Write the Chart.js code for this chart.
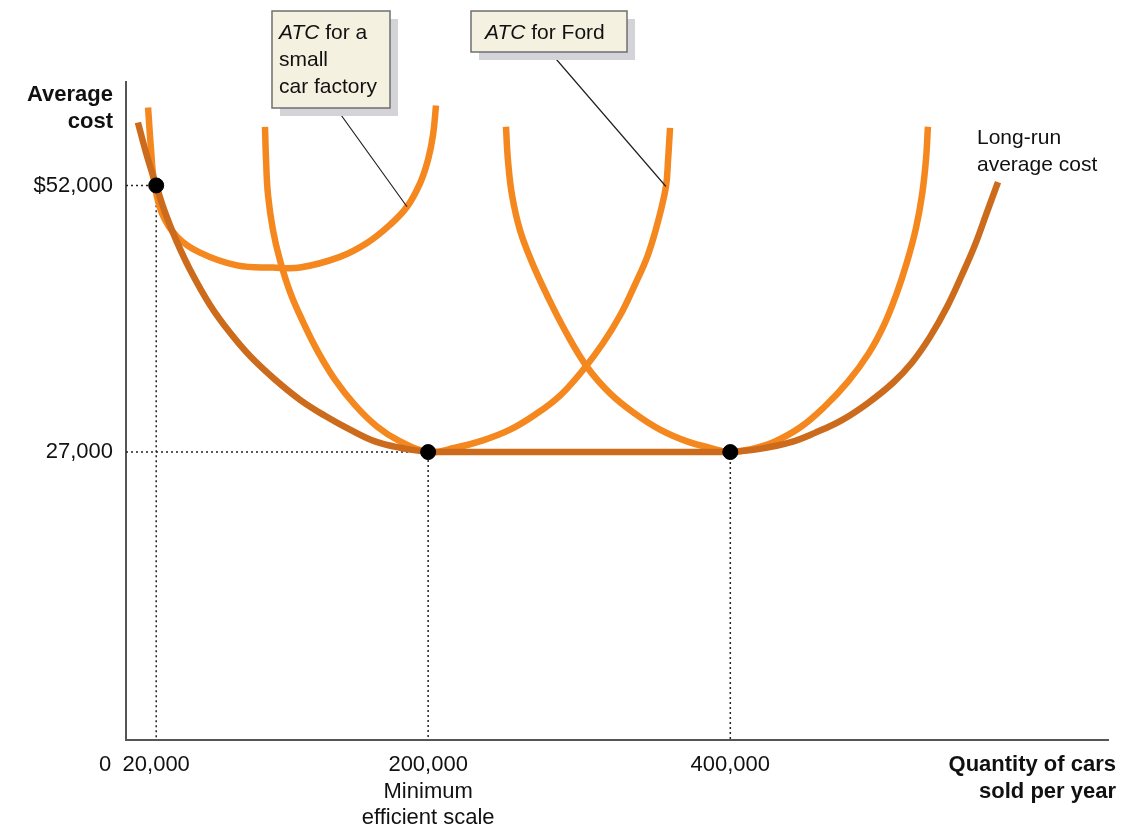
<!DOCTYPE html>
<html>
<head>
<meta charset="utf-8">
<title>Long-run average cost</title>
<script src="https://cdn.jsdelivr.net/npm/chart.js@4.4.0/dist/chart.umd.min.js"></script>
<style>
  html, body { margin: 0; padding: 0; background: #fff; }
  #wrap { width: 1135px; height: 829px; position: relative; }
</style>
</head>
<body>
<div id="wrap"><canvas id="costChart"></canvas></div>
<script>
// Quantity of cars sold per year (x) and average cost in dollars (y)
const smallAtcQ = [14600, 16600, 18500, 23800, 33800, 49000, 73500, 97300, 115200, 141600, 159500, 174700, 186000, 194600, 199900, 203200, 205200];
const smallAtcCost = [59300, 55300, 52500, 49400, 47200, 45700, 44500, 44300, 44300, 45300, 46600, 48300, 50000, 52200, 54400, 56700, 59500];

const fordAtcQ = [92000, 92700, 94000, 97300, 101900, 108600, 117200, 127100, 138300, 151600, 166100, 181400, 200000, 217800, 236300, 254200, 270700, 287300, 302500, 315700, 327000, 336900, 345500, 352100, 357400, 358800, 360100];
const fordAtcCost = [57500, 54400, 51100, 47800, 45000, 42000, 39200, 36400, 33800, 31400, 29400, 28000, 27000, 27400, 28100, 29100, 30500, 32300, 34700, 37200, 39800, 42700, 45500, 48600, 51900, 54400, 57400];

const largeAtcQ = [251500, 252800, 255500, 260800, 268700, 278700, 290600, 305100, 320400, 336900, 353500, 371300, 386600, 400000, 414300, 428200, 446100, 462000, 477900, 491800, 501700, 509700, 516900, 522900, 526900, 529500, 530800];
const largeAtcCost = [57500, 54400, 51100, 47800, 44800, 41700, 38400, 35000, 32500, 30600, 29100, 28000, 27400, 27000, 27300, 27900, 29300, 31200, 33600, 36300, 38900, 41700, 44800, 48000, 51100, 54400, 57500];

const lracQ = [7900, 13200, 17900, 20000, 25800, 33100, 42400, 55600, 68800, 82100, 98600, 115200, 131700, 148300, 164800, 181400, 200000, 300000, 400000, 419600, 439500, 456000, 473900, 491100, 507700, 520300, 532200, 543400, 553300, 561900, 569900, 577200];
const lracCost = [57900, 55100, 52900, 52000, 49500, 46900, 44100, 40800, 38200, 36000, 33800, 31900, 30400, 29100, 28000, 27400, 27000, 27000, 27000, 27300, 27900, 28800, 30000, 31600, 33500, 35400, 37800, 40600, 43600, 46400, 49500, 52300];

// marked points
const dotQ = [20000, 200000, 400000];
const dotCost = [52000, 27000, 27000];

// tick values and labels
const xTickValues = [20000, 200000, 400000];
const xTickLabels = ['20,000', ['200,000', 'Minimum', 'efficient scale'], '400,000'];
const yTickValues = [27000, 52000];
const yTickLabels = ['27,000', '$52,000'];

const ATC_COLOR = '#f5871f';
const LRAC_COLOR = '#cc6b1b';
const FONT = '"Liberation Sans", Arial, Helvetica, sans-serif';

function toPoints(xs, ys) {
    return xs.map((v, i) => ({ x: v, y: ys[i] }));
}

function curve(label, points, color, tension) {
    return {
        label: label,
        data: points,
        borderColor: color,
        borderWidth: 6.5,
        pointRadius: 0,
        tension: tension,
        borderCapStyle: 'butt',
        showLine: true,
        clip: false,
    };
}

function guide(points) {
    return {
        label: 'guide',
        data: points,
        borderColor: '#222',
        borderWidth: 1.5,
        borderDash: [2, 3],
        pointRadius: 0,
        showLine: true,
        tension: 0,
    };
}

// long-run curve: falling part, flat bottom between the two minimum points, rising part
const lracPoints = toPoints(lracQ, lracCost);
const flatStart = lracQ.indexOf(200000);
const flatEnd = lracQ.indexOf(400000);

// boxes, pointers and free text
const notesPlugin = {
    id: 'notes',
    afterDraw(chart) {
        const { ctx, scales: { x, y } } = chart;
        ctx.save();

        // pointer lines from boxes to curves
        ctx.strokeStyle = '#222';
        ctx.lineWidth = 1.2;
        ctx.beginPath();
        ctx.moveTo(336, 108);
        ctx.lineTo(x.getPixelForValue(smallAtcQ[12]), y.getPixelForValue(smallAtcCost[12]));
        ctx.moveTo(550, 52);
        ctx.lineTo(x.getPixelForValue(fordAtcQ[24]), y.getPixelForValue(fordAtcCost[24]));
        ctx.stroke();

        function box(left, top, w, h) {
            ctx.fillStyle = '#d3d3d8';
            ctx.fillRect(left + 8, top + 8, w, h);
            ctx.fillStyle = '#f4f1e1';
            ctx.fillRect(left, top, w, h);
            ctx.strokeStyle = '#6f6f6f';
            ctx.lineWidth = 1.5;
            ctx.strokeRect(left, top, w, h);
        }

        function atcLine(rest, px, py) {
            ctx.font = 'italic 21px ' + FONT;
            ctx.fillText('ATC', px, py);
            const w = ctx.measureText('ATC').width;
            ctx.font = '21px ' + FONT;
            ctx.fillText(rest, px + w, py);
        }

        box(272, 11, 118, 97);
        box(471, 11, 156, 41);

        ctx.fillStyle = '#111';
        ctx.textAlign = 'left';
        ctx.textBaseline = 'middle';
        atcLine(' for a', 279, 33);
        ctx.fillText('small', 279, 60);
        ctx.fillText('car factory', 279, 87);
        atcLine(' for Ford', 485, 33);

        ctx.font = '21px ' + FONT;
        ctx.fillText('Long-run', 977, 138);
        ctx.fillText('average cost', 977, 165);

        // axis titles
        ctx.font = 'bold 22px ' + FONT;
        ctx.textAlign = 'right';
        ctx.fillText('Average', 113, 95);
        ctx.fillText('cost', 113, 122);
        ctx.fillText('Quantity of cars', 1116, 765);
        ctx.fillText('sold per year', 1116, 792);

        // origin label
        ctx.font = '22px ' + FONT;
        ctx.textAlign = 'center';
        ctx.fillText('0', 105, 765);

        ctx.restore();
    }
};

const ctx = document.getElementById('costChart').getContext('2d');
new Chart(ctx, {
    type: 'scatter',
    data: {
        datasets: [
            {
                label: 'points',
                data: toPoints(dotQ, dotCost),
                backgroundColor: '#000',
                borderColor: '#000',
                pointRadius: 7.5,
                pointHoverRadius: 7.5,
                showLine: false,
                clip: false,
            },
            curve('Long-run average cost', lracPoints.slice(flatStart, flatEnd + 1), LRAC_COLOR, 0),
            curve('Long-run average cost', lracPoints.slice(0, flatStart + 1), LRAC_COLOR, 0.4),
            curve('Long-run average cost', lracPoints.slice(flatEnd), LRAC_COLOR, 0.4),
            curve('ATC for a small car factory', toPoints(smallAtcQ, smallAtcCost), ATC_COLOR, 0.4),
            curve('ATC for Ford', toPoints(fordAtcQ, fordAtcCost), ATC_COLOR, 0.4),
            curve('ATC large', toPoints(largeAtcQ, largeAtcCost), ATC_COLOR, 0.4),
            guide([{ x: 0, y: 52000 }, { x: 20000, y: 52000 }, { x: 20000, y: 0 }]),
            guide([{ x: 0, y: 27000 }, { x: 200000, y: 27000 }, { x: 200000, y: 0 }]),
            guide([{ x: 400000, y: 27000 }, { x: 400000, y: 0 }]),
        ],
    },
    options: {
        responsive: true,
        maintainAspectRatio: false,
        animation: false,
        devicePixelRatio: 1,
        layout: { padding: { top: 82, right: 27, left: 0, bottom: 0 } },
        plugins: {
            legend: { display: false },
            tooltip: { enabled: false },
        },
        scales: {
            x: {
                type: 'linear',
                min: 0,
                max: 650000,
                grid: { display: false, drawTicks: false },
                border: { display: true, color: '#555', width: 2 },
                afterBuildTicks: s => { s.ticks = xTickValues.map(v => ({ value: v })); },
                afterFit: s => { s.height = 89; },
                ticks: {
                    autoSkip: false,
                    maxRotation: 0,
                    padding: 12,
                    color: '#111',
                    font: { family: FONT, size: 22 },
                    callback: v => xTickLabels[xTickValues.indexOf(v)],
                },
            },
            y: {
                type: 'linear',
                min: 0,
                max: 61700,
                grid: { display: false, drawTicks: false },
                border: { display: true, color: '#555', width: 2 },
                afterBuildTicks: s => { s.ticks = yTickValues.map(v => ({ value: v })); },
                afterFit: s => { s.width = 126; },
                ticks: {
                    padding: 13,
                    color: '#111',
                    font: { family: FONT, size: 22 },
                    callback: v => yTickLabels[yTickValues.indexOf(v)],
                },
            },
        },
    },
    plugins: [notesPlugin],
});
</script>
</body>
</html>
